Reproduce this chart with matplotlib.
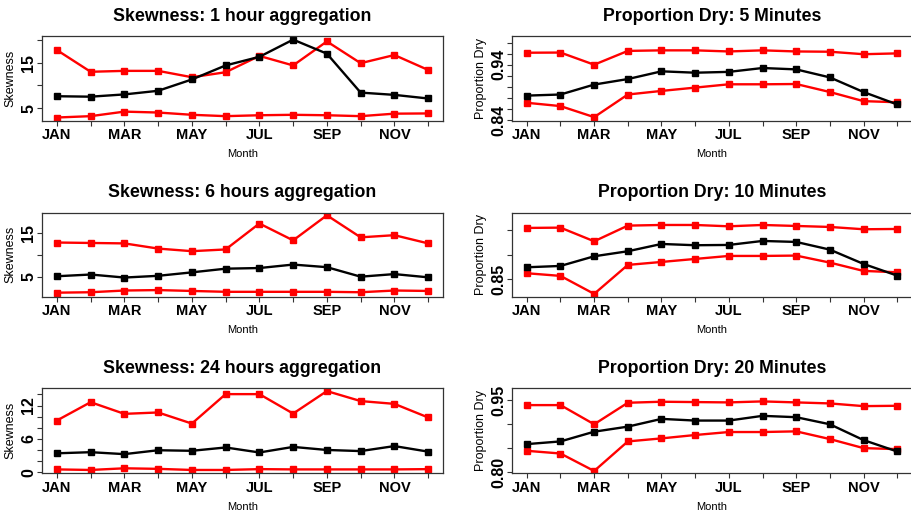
import matplotlib
matplotlib.use("Agg")
import matplotlib.pyplot as plt

# ===============================
# Data
# ===============================
months = ["JAN", "FEB", "MAR", "APR", "MAY", "JUN",
          "JUL", "AUG", "SEP", "OCT", "NOV", "DEC"]

# Skewness, 1 hour aggregation
skew1_mid = [7.6, 7.5, 8.0, 8.8, 11.3, 14.4, 16.3, 20.1, 17.0, 8.4, 7.9, 7.1]
skew1_hi = [17.8, 13.0, 13.2, 13.2, 11.8, 12.9, 16.5, 14.4, 19.7, 14.9, 16.7, 13.4]
skew1_lo = [2.9, 3.2, 4.2, 4.0, 3.5, 3.2, 3.4, 3.5, 3.4, 3.2, 3.75, 3.8]

# Skewness, 6 hours aggregation
skew6_mid = [5.1, 5.5, 4.8, 5.2, 6.0, 6.85, 7.0, 7.8, 7.2, 5.0, 5.6, 4.85]
skew6_hi = [12.9, 12.8, 12.7, 11.5, 10.9, 11.3, 17.3, 13.4, 19.2, 14.1, 14.6, 12.7]
skew6_lo = [1.3, 1.4, 1.8, 1.9, 1.7, 1.5, 1.5, 1.5, 1.5, 1.4, 1.8, 1.7]

# Skewness, 24 hours aggregation
skew24_mid = [3.4, 3.6, 3.25, 3.95, 3.85, 4.45, 3.55, 4.55, 4.0, 3.8, 4.7, 3.7]
skew24_hi = [9.3, 12.6, 10.5, 10.75, 8.75, 14.05, 14.05, 10.55, 14.6, 12.8, 12.3, 9.85]
skew24_lo = [0.5, 0.4, 0.7, 0.6, 0.4, 0.4, 0.55, 0.5, 0.5, 0.5, 0.5, 0.55]

# Proportion dry, 5 minutes
dry5_mid = [0.884, 0.886, 0.904, 0.914, 0.928, 0.9255, 0.927, 0.934, 0.9315, 0.917, 0.8905, 0.868]
dry5_hi = [0.9617, 0.962, 0.940, 0.965, 0.966, 0.966, 0.964, 0.966, 0.964, 0.9635, 0.959, 0.9605]
dry5_lo = [0.871, 0.865, 0.845, 0.886, 0.8925, 0.8985, 0.9045, 0.9045, 0.905, 0.8905, 0.874, 0.872]

# Proportion dry, 10 minutes
dry10_mid = [0.8743, 0.877, 0.8966, 0.9068, 0.9216, 0.919, 0.9196, 0.9277, 0.9257, 0.9101, 0.8811, 0.8574]
dry10_hi = [0.9541, 0.9547, 0.927, 0.9588, 0.9601, 0.9601, 0.9574, 0.9601, 0.9581, 0.9561, 0.9514, 0.952]
dry10_lo = [0.8622, 0.8568, 0.8203, 0.8791, 0.8851, 0.8912, 0.8973, 0.8973, 0.898, 0.8838, 0.8669, 0.8642]

# Proportion dry, 20 minutes
dry20_mid = [0.8586, 0.8642, 0.8844, 0.8949, 0.911, 0.9075, 0.9075, 0.9173, 0.9145, 0.8998, 0.867, 0.8433]
dry20_hi = [0.9396, 0.9396, 0.8998, 0.9445, 0.9466, 0.9459, 0.9452, 0.9473, 0.9452, 0.9431, 0.9375, 0.9382]
dry20_lo = [0.8447, 0.8391, 0.8028, 0.8642, 0.8705, 0.8775, 0.8837, 0.8837, 0.8851, 0.8691, 0.8503, 0.8482]

# ===============================
# Figure layout
# ===============================
W, H = 912, 515
fig = plt.figure(figsize=(W / 100, H / 100), dpi=100)
plt.rcParams["font.family"] = ["Liberation Sans", "DejaVu Sans"]

COLS = [(42, 443), (512, 912)]
ROWS = [(36, 121), (212.7, 297), (388.3, 473.3)]


def make_axes(col, row):
    x0, x1 = COLS[col]
    y0, y1 = ROWS[row]
    return fig.add_axes([x0 / W, 1 - y1 / H, (x1 - x0) / W, (y1 - y0) / H])


def draw_panel(ax, title, ylabel, mid, hi, lo, ylim, yticks, ylabels):
    x = range(len(months))
    for series, col in ((hi, "#ff0000"), (lo, "#ff0000"), (mid, "black")):
        ax.plot(x, series, color=col, lw=1.7, marker="s", ms=4.5,
                solid_joinstyle="miter")

    ax.set_xlim(-0.44, 11.44)
    ax.set_ylim(*ylim)
    ax.set_xticks(list(x))
    ax.set_xticklabels([m if i % 2 == 0 else "" for i, m in enumerate(months)],
                       fontsize=10.5, fontweight="bold")
    ax.set_yticks(yticks)
    ax.set_yticklabels(ylabels, fontsize=11.5, fontweight="bold",
                       rotation=90, va="center")
    ax.tick_params(length=3.8, width=0.8, color="#333333", pad=1.5)
    ax.tick_params(axis="y", pad=0.5)
    for s in ax.spines.values():
        s.set_linewidth(0.9)
        s.set_color("#333333")

    ax.set_title(title, fontsize=12.8, fontweight="bold", pad=11)
    ax.set_xlabel("Month", fontsize=8, labelpad=5)
    ax.set_ylabel(ylabel, fontsize=9, labelpad=3)


# ===============================
# Panels
# ===============================
draw_panel(make_axes(0, 0), "Skewness: 1 hour aggregation", "Skewness",
           skew1_mid, skew1_hi, skew1_lo, (2.13, 20.9),
           [5, 10, 15, 20], ["5", "", "15", ""])

draw_panel(make_axes(0, 1), "Skewness: 6 hours aggregation", "Skewness",
           skew6_mid, skew6_hi, skew6_lo, (0.3, 19.8),
           [5, 10, 15], ["5", "", "15"])

draw_panel(make_axes(0, 2), "Skewness: 24 hours aggregation", "Skewness",
           skew24_mid, skew24_hi, skew24_lo, (-0.2, 15.1),
           [0, 2, 4, 6, 8, 10, 12, 14], ["0", "", "", "6", "", "", "12", ""])

draw_panel(make_axes(1, 0), "Proportion Dry: 5 Minutes", "Proportion Dry",
           dry5_mid, dry5_hi, dry5_lo, (0.838, 0.992),
           [0.84, 0.86, 0.88, 0.90, 0.92, 0.94, 0.96, 0.98],
           ["0.84", "", "", "", "", "0.94", "", ""])

draw_panel(make_axes(1, 1), "Proportion Dry: 10 Minutes", "Proportion Dry",
           dry10_mid, dry10_hi, dry10_lo, (0.814, 0.985),
           [0.85, 0.90, 0.95], ["0.85", "", ""])

draw_panel(make_axes(1, 2), "Proportion Dry: 20 Minutes", "Proportion Dry",
           dry20_mid, dry20_hi, dry20_lo, (0.798, 0.9745),
           [0.80, 0.85, 0.90, 0.95], ["0.80", "", "", "0.95"])

fig.savefig("out.png", dpi=100)
